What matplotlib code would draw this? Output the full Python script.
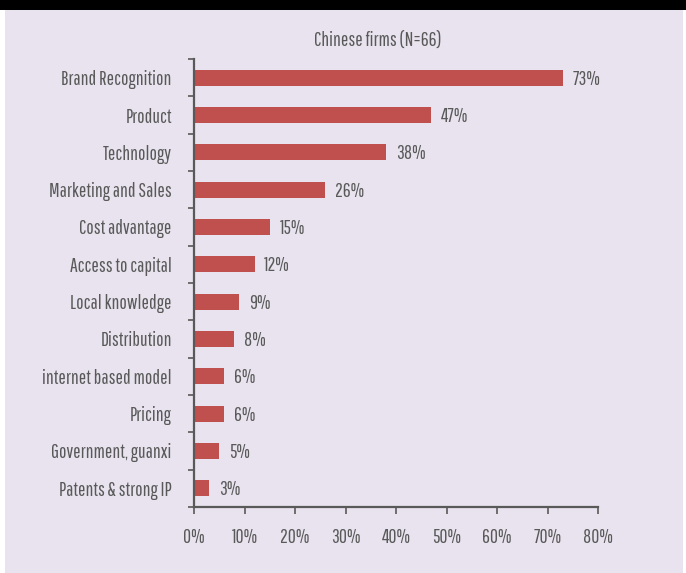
import matplotlib.pyplot as plt
from matplotlib.patches import Rectangle
from matplotlib.ticker import FixedLocator

# data, top to bottom as in the chart
categories = [
    "Brand Recognition", "Product", "Technology", "Marketing and Sales",
    "Cost advantage", "Access to capital", "Local knowledge", "Distribution",
    "internet based model", "Pricing", "Government, guanxi", "Patents & strong IP",
]
shares = [73, 47, 38, 26, 15, 12, 9, 8, 6, 6, 5, 3]
x_ticks = [0, 10, 20, 30, 40, 50, 60, 70, 80]

bar_color = "#c0504d"
text_color = "#595959"
bg_color = "#e8e3ee"
plt.rcParams["font.family"] = ["Pathway Gothic One", "DejaVu Sans"]
fs = 14

W, H = 686, 573
fig = plt.figure(figsize=(W / 100, H / 100), dpi=100, facecolor="white")

# background panel and black band at the top
fig.patches.append(Rectangle((5 / W, 0), 678 / W, 1 - 10 / H, transform=fig.transFigure,
                             facecolor=bg_color, edgecolor="none", zorder=-2))
fig.patches.append(Rectangle((0, 1 - 10 / H), 1, 10 / H, transform=fig.transFigure,
                             facecolor="black", edgecolor="none", zorder=-1))

ax = fig.add_axes([194 / W, 1 - 507 / H, 404 / W, 448 / H])
ax.set_facecolor("none")

n = len(categories)
ypos = list(range(n))[::-1]
ax.barh(ypos, shares, height=0.42, color=bar_color)

for y, v in zip(ypos, shares):
    ax.annotate(f"{v}%", (v, y), xytext=(7, -1), textcoords="offset points",
                va="center", ha="left", fontsize=fs, color=text_color)

ax.set_xlim(0, 80)
ax.set_ylim(-0.5, n - 0.5)

ax.set_xticks(x_ticks)
ax.set_xticklabels([f"{t}%" for t in x_ticks])
ax.set_yticks(ypos)
ax.set_yticklabels(categories)
ax.yaxis.set_minor_locator(FixedLocator([i - 0.5 for i in range(n + 1)]))

ax.tick_params(axis="y", which="major", length=0, pad=16, labelsize=fs, labelcolor=text_color)
ax.tick_params(axis="y", which="minor", length=4, width=1.2, color=text_color, direction="out")
ax.tick_params(axis="x", length=5, width=1.2, color=text_color, pad=10,
               labelsize=fs, labelcolor=text_color)

for side in ["top", "right"]:
    ax.spines[side].set_visible(False)
for side in ["left", "bottom"]:
    ax.spines[side].set_color(text_color)
    ax.spines[side].set_linewidth(1.6)

fig.text(378 / W, 1 - 40 / H, "Chinese firms (N=66)", ha="center", va="center",
         fontsize=fs, color=text_color)

plt.savefig("out.png", dpi=100, facecolor=fig.get_facecolor())
